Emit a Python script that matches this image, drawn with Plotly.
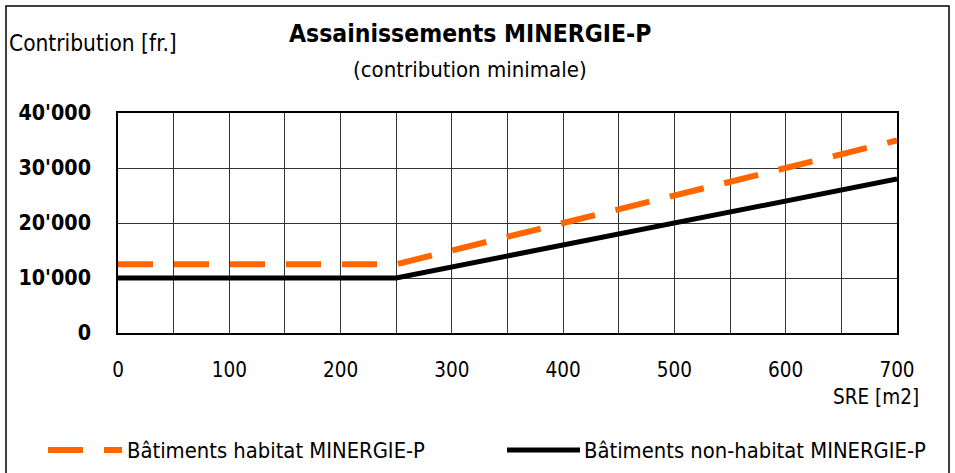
import plotly.graph_objects as go

# data
sre = [0, 250, 700]
habitat = [12500, 12500, 35000]
non_habitat = [10000, 10000, 28000]
series_names = ["Bâtiments habitat MINERGIE-P", "Bâtiments non-habitat MINERGIE-P"]

x_ticks = list(range(0, 701, 50))
x_labels = [str(v) if v % 100 == 0 else "" for v in x_ticks]
y_ticks = [0, 10000, 20000, 30000, 40000]
y_labels = ["0", "10'000", "20'000", "30'000", "40'000"]

FONT = "DejaVu Sans Condensed"
W, H = 955, 473
L, R, T, B = 118, 58, 113, 140
PW, PH = W - L - R, H - T - B


def px(x):
    return (x - L) / PW


def py(y):
    return (H - B - y) / PH


orange = dict(color="#FF6600", width=6, dash="35px,21px")
black = dict(color="#000000", width=5)

fig = go.Figure()
fig.add_trace(go.Scatter(x=sre, y=habitat, mode="lines", name=series_names[0],
                         line=orange, showlegend=False))
fig.add_trace(go.Scatter(x=sre, y=non_habitat, mode="lines", name=series_names[1],
                         line=black, showlegend=False))


def txt(text, x, y, size, xanchor="left"):
    return dict(text=text, xref="paper", yref="paper", x=px(x), y=py(y),
                xanchor=xanchor, yanchor="middle", showarrow=False,
                font=dict(size=size), borderpad=0)


fig.update_layout(
    width=W, height=H,
    margin=dict(l=L, r=R, t=T, b=B),
    paper_bgcolor="white", plot_bgcolor="white",
    font=dict(family=FONT, size=21, color="black"),
    showlegend=False,
    annotations=[
        txt("<b>Assainissements MINERGIE-P</b>", 470, 33, 24.5, "center"),
        txt("(contribution minimale)", 470, 70, 22, "center"),
        txt("Contribution [fr.]", 8, 43, 22.5),
        txt("SRE [m2]", 920, 397, 20.5, "right"),
        txt(series_names[0], 126, 450, 21.8),
        txt(series_names[1], 583, 450, 21.8),
    ],
    shapes=[
        dict(type="rect", xref="paper", yref="paper",
             x0=px(6), x1=px(949), y0=py(480), y1=py(6),
             line=dict(color="black", width=1.5), layer="below"),
        dict(type="line", xref="paper", yref="paper",
             x0=px(48), x1=px(122), y0=py(450), y1=py(450), line=orange),
        dict(type="line", xref="paper", yref="paper",
             x0=px(507), x1=px(580), y0=py(450), y1=py(450), line=black),
    ],
)

fig.update_xaxes(
    range=[0, 700], tickvals=x_ticks, ticktext=x_labels,
    showgrid=True, gridcolor="#333333", gridwidth=1,
    showline=True, linecolor="black", linewidth=1.5, mirror=True,
    ticks="", ticklabelstandoff=18, zeroline=False, automargin=False,
    tickfont=dict(size=20.5),
)
fig.update_yaxes(
    range=[0, 40000], tickvals=y_ticks, ticktext=["<b>%s</b>" % t for t in y_labels],
    showgrid=True, gridcolor="#333333", gridwidth=1,
    showline=True, linecolor="black", linewidth=1.5, mirror=True,
    ticks="", ticklabelstandoff=21, zeroline=False, automargin=False,
    tickfont=dict(size=21.3),
)

fig.write_html("out.html", config={"displayModeBar": False},
               post_script="document.body.style.margin='0';")
